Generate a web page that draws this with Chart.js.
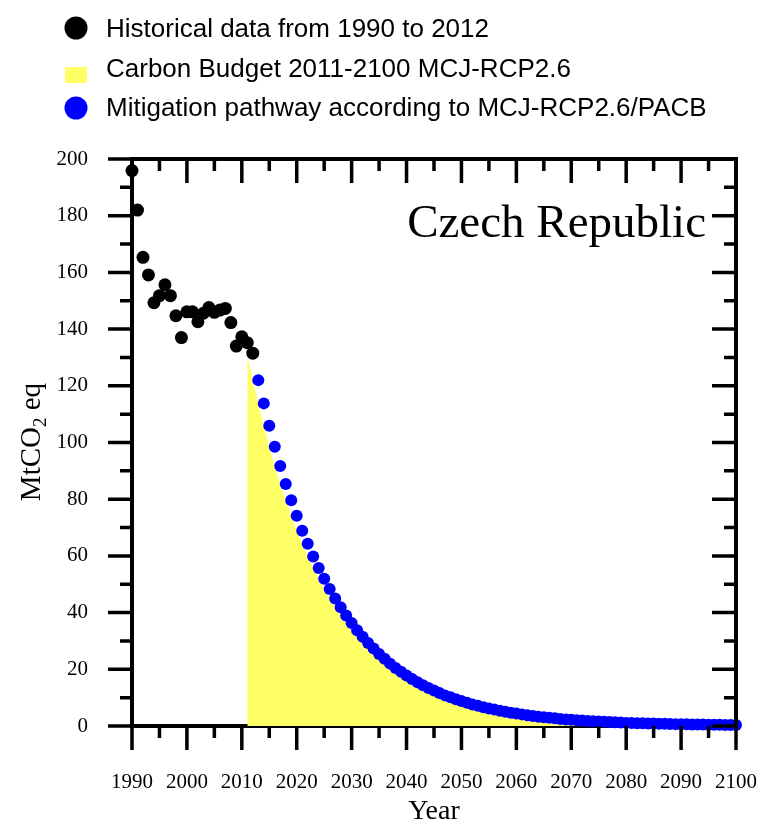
<!DOCTYPE html>
<html>
<head>
<meta charset="utf-8">
<script src="https://cdn.jsdelivr.net/npm/chart.js@4.4.1/dist/chart.umd.min.js"></script>
<style>
  html, body { margin: 0; padding: 0; background: #fff; }
  #wrap { width: 758px; height: 823px; position: relative; }
</style>
</head>
<body>
<div id="wrap"><canvas id="c"></canvas></div>
<script>
// ---- Data ----
const histYears = [1990,1991,1992,1993,1994,1995,1996,1997,1998,1999,2000,2001,2002,2003,2004,2005,2006,2007,2008,2009,2010,2011,2012];
const histValues = [195.9,182.0,165.3,159.1,149.3,151.8,155.6,151.8,144.7,137.0,146.1,146.1,142.6,145.6,147.6,145.9,146.7,147.3,142.3,134.0,137.3,135.2,131.5];

const pathYearStart = 2013;
const pathValues = [
  122.0,113.8,105.9,98.5,91.7,85.4,79.6,74.2,68.9,64.3,
  59.8,55.7,51.9,48.3,45.0,41.9,39.0,36.3,33.8,31.5,
  29.3,27.3,25.4,23.7,22.0,20.5,19.1,17.8,16.6,15.4,
  14.4,13.4,12.5,11.6,10.8,10.1,9.4,8.8,8.2,7.6,
  7.1,6.6,6.2,5.8,5.4,5.0,4.7,4.4,4.1,3.8,
  3.5,3.3,3.1,2.9,2.7,2.5,2.3,2.2,2.0,1.9,
  1.8,1.7,1.6,1.5,1.4,1.3,1.2,1.1,1.05,1.0,
  0.95,0.9,0.85,0.8,0.75,0.7,0.66,0.62,0.58,0.55,
  0.52,0.49,0.46,0.43,0.40,0.38,0.36,0.34
];

const budgetYearStart = 2011;
const budgetValues = [
  131.0,122.0,113.8,105.9,98.5,91.7,85.4,79.6,74.2,68.9,
  64.3,59.8,55.7,51.9,48.3,45.0,41.9,39.0,36.3,33.8,
  31.5,29.3,27.3,25.4,23.7,22.0,20.5,19.1,17.8,16.6,
  15.4,14.4,13.4,12.5,11.6,10.8,10.1,9.4,8.8,8.2,
  7.6,7.1,6.6,6.2,5.8,5.4,5.0,4.7,4.4,4.1,
  3.8,3.5,3.3,3.1,2.9,2.7,2.5,2.3,2.2,2.0,
  1.9,1.8,1.7,1.6,1.5,1.4,1.3,1.2,1.1,1.05,
  1.0,0.95,0.9,0.85,0.8,0.75,0.7,0.66,0.62,0.58,
  0.55,0.52,0.49,0.46,0.43,0.40,0.38,0.36,0.34,0.34
];

const xMin = 1990, xMax = 2100, xStep = 10, xMinorStep = 5;
const yMin = 0, yMax = 200, yStep = 20, yMinorStep = 10;

const labels = [
  'Historical data from 1990 to 2012',
  'Carbon Budget 2011-2100 MCJ-RCP2.6',
  'Mitigation pathway according to MCJ-RCP2.6/PACB'
];
const countryName = 'Czech Republic';
const xTitle = 'Year';
const yTitleParts = ['MtCO', '2', ' eq'];

// ---- Build datasets ----
const histData = histYears.map((y, i) => ({ x: y, y: histValues[i] }));
const pathData = pathValues.map((v, i) => ({ x: pathYearStart + i, y: v }));
const budgetData = budgetValues.map((v, i) => ({ x: budgetYearStart + i, y: v }));

const SERIF = '"Liberation Serif", "Times New Roman", serif';
const SANS = '"Liberation Sans", Arial, sans-serif';

const decorPlugin = {
  id: 'decor',
  afterDraw(chart) {
    const ctx = chart.ctx;
    const xs = chart.scales.x, ys = chart.scales.y;
    const L = xs.left, R = xs.right, T = ys.top, B = ys.bottom;
    const MAJ = 24, MIN = 12;
    ctx.save();
    ctx.strokeStyle = '#000';
    ctx.lineCap = 'butt';
    // frame
    ctx.lineWidth = 4;
    ctx.beginPath();
    ctx.moveTo(L, T); ctx.lineTo(R, T);
    ctx.moveTo(R, T - 2); ctx.lineTo(R, B + 2);
    ctx.stroke();
    // x ticks (bottom outward, top inward)
    ctx.lineWidth = 3.5;
    for (let yr = xMin; yr <= xMax; yr += xMinorStep) {
      const px = xs.getPixelForValue(yr);
      const len = (yr % xStep === 0) ? MAJ : MIN;
      ctx.beginPath();
      ctx.moveTo(px, B); ctx.lineTo(px, B + len);
      ctx.moveTo(px, T); ctx.lineTo(px, T + len);
      ctx.stroke();
    }
    // y ticks (left outward, right inward)
    for (let v = yMin; v <= yMax; v += yMinorStep) {
      const py = ys.getPixelForValue(v);
      const len = (v % yStep === 0) ? MAJ : MIN;
      ctx.beginPath();
      ctx.moveTo(L, py); ctx.lineTo(L - len, py);
      ctx.moveTo(R, py); ctx.lineTo(R - len, py);
      ctx.stroke();
    }
    ctx.restore();

    // Country name
    ctx.save();
    ctx.fillStyle = '#000';
    ctx.font = '47px ' + SERIF;
    ctx.textAlign = 'right';
    ctx.textBaseline = 'alphabetic';
    ctx.fillText(countryName, 706, 237);

    // x title
    ctx.font = '28px ' + SERIF;
    ctx.textAlign = 'center';
    ctx.fillText(xTitle, 434, 819);

    // y title with subscript
    ctx.translate(40, 442);
    ctx.rotate(-Math.PI / 2);
    const bigF = '29px ' + SERIF, smallF = '19px ' + SERIF;
    ctx.font = bigF; const w1 = ctx.measureText(yTitleParts[0]).width;
    ctx.font = smallF; const w2 = ctx.measureText(yTitleParts[1]).width;
    ctx.font = bigF; const w3 = ctx.measureText(yTitleParts[2]).width;
    let sx = -(w1 + w2 + w3) / 2;
    ctx.textAlign = 'left';
    ctx.font = bigF; ctx.fillText(yTitleParts[0], sx, 0); sx += w1;
    ctx.font = smallF; ctx.fillText(yTitleParts[1], sx, 6); sx += w2;
    ctx.font = bigF; ctx.fillText(yTitleParts[2], sx, 0);
    ctx.restore();

    // Legend
    ctx.save();
    const ds = chart.data.datasets;
    const markerY = [28, 75, 108];
    const textY = [37, 77, 116];
    ctx.font = '26px ' + SANS;
    ctx.textBaseline = 'alphabetic';
    ctx.textAlign = 'left';
    ds.forEach((d, k) => {
      const cy = markerY[k];
      ctx.fillStyle = d.backgroundColor;
      if (d.legendShape === 'rect') {
        ctx.fillRect(65, cy - 8, 22, 16);
      } else {
        ctx.beginPath();
        ctx.arc(76, cy, 11.5, 0, Math.PI * 2);
        ctx.fill();
      }
      ctx.fillStyle = '#000';
      ctx.fillText(d.label, 106, textY[k]);
    });
    ctx.restore();
  }
};

new Chart(document.getElementById('c'), {
  type: 'scatter',
  data: {
    datasets: [
      {
        label: labels[0],
        data: histData,
        backgroundColor: '#000000',
        borderColor: '#000000',
        pointRadius: 6.5,
        pointBorderWidth: 0,
        clip: false,
        order: 1
      },
      {
        label: labels[1],
        type: 'line',
        data: budgetData,
        backgroundColor: '#ffff66',
        borderColor: 'rgba(0,0,0,0)',
        borderWidth: 0,
        pointRadius: 0,
        fill: 'origin',
        tension: 0,
        legendShape: 'rect',
        order: 3
      },
      {
        label: labels[2],
        data: pathData,
        backgroundColor: '#0000ff',
        borderColor: '#0000ff',
        pointRadius: 6,
        pointBorderWidth: 0,
        clip: false,
        order: 2
      }
    ]
  },
  options: {
    responsive: true,
    maintainAspectRatio: false,
    animation: false,
    layout: { padding: { top: 159, right: 22, left: 0, bottom: 0 } },
    plugins: {
      legend: { display: false },
      tooltip: { enabled: false },
      title: { display: false }
    },
    scales: {
      x: {
        type: 'linear',
        min: xMin, max: xMax,
        afterFit(s) { s.height = 97; s.paddingLeft = 0; s.paddingRight = 0; },
        grid: { display: true, drawOnChartArea: false, drawTicks: false },
        border: { display: true, color: '#000', width: 4 },
        ticks: {
          stepSize: xStep,
          padding: 44,
          color: '#000',
          font: { family: SERIF, size: 21 },
          maxRotation: 0,
          autoSkip: false,
          callback: v => String(v)
        }
      },
      y: {
        type: 'linear',
        min: yMin, max: yMax,
        afterFit(s) { s.width = 132; s.paddingTop = 0; s.paddingBottom = 0; },
        grid: { display: true, drawOnChartArea: false, drawTicks: false },
        border: { display: true, color: '#000', width: 4 },
        ticks: {
          stepSize: yStep,
          padding: 44,
          color: '#000',
          font: { family: SERIF, size: 21 },
          callback: v => String(v)
        }
      }
    }
  },
  plugins: [decorPlugin]
});
</script>
</body>
</html>
